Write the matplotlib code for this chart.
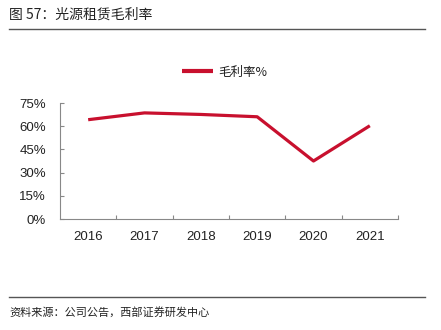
import matplotlib
matplotlib.use("Agg")
import matplotlib.pyplot as plt
from matplotlib.lines import Line2D
import numpy as np

years = ["2016", "2017", "2018", "2019", "2020", "2021"]
margin = [64.2, 68.6, 67.6, 66.1, 37.5, 60.3]
series_name = "毛利率%"
title = "图 57：光源租赁毛利率"
source = "资料来源：公司公告，西部证券研发中心"
yticks = [0, 15, 30, 45, 60, 75]

plt.rcParams['font.family'] = ['Liberation Sans', 'Noto Sans CJK SC', 'DejaVu Sans']

W, H = 441, 330
fig = plt.figure(figsize=(W / 100, H / 100), dpi=100)
ax = fig.add_axes([60 / W, 1 - 219 / H, (398 - 60) / W, (219 - 103) / H])

x = np.arange(len(years))
ax.plot(x, margin, color="#C8102E", lw=2.3, solid_capstyle="butt", label=series_name)

ax.set_xlim(-0.5, len(years) - 0.5)
ax.set_ylim(0, 75)
ax.set_yticks(yticks)
ax.set_yticklabels([f"{v}%" for v in yticks], fontsize=9.5, color="#222222")
ax.set_xticks(x)
ax.set_xticklabels(years, fontsize=9.5, color="#222222")
ax.set_xticks(np.arange(len(years)) + 0.5, minor=True)
ax.tick_params(axis="x", which="major", length=0, pad=9)
ax.tick_params(axis="x", which="minor", length=3, direction="in", color="#888888", width=0.8)
ax.tick_params(axis="y", length=3, direction="in", color="#888888", width=0.8, pad=10)

for s in ["top", "right"]:
    ax.spines[s].set_visible(False)
for s in ["left", "bottom"]:
    ax.spines[s].set_color("#888888")
    ax.spines[s].set_linewidth(0.8)

leg = fig.legend(loc="center", bbox_to_anchor=(224.5 / W, 1 - 72 / H), frameon=False,
                 prop={"family": ["Noto Sans CJK SC"], "size": 9}, handlelength=2.5,
                 handletextpad=0.4, borderpad=0, borderaxespad=0)
for t in leg.get_texts():
    t.set_color("#222222")
for h in leg.get_lines():
    h.set_linewidth(3)

fig.text(9 / W, 1 - 15 / H, title, fontsize=10, va="center", ha="left",
         family=["Noto Sans CJK SC", "DejaVu Sans"], color="#222222")
fig.add_artist(Line2D([9 / W, 425 / W], [1 - 29.3 / H, 1 - 29.3 / H], color="#555555", lw=1))
fig.add_artist(Line2D([9 / W, 425 / W], [1 - 296.7 / H, 1 - 296.7 / H], color="#555555", lw=1))
fig.text(9 / W, 1 - 312 / H, source, fontsize=8, va="center", ha="left",
         family=["Noto Sans CJK SC", "DejaVu Sans"], color="#222222")

fig.savefig("out.png", dpi=100)
